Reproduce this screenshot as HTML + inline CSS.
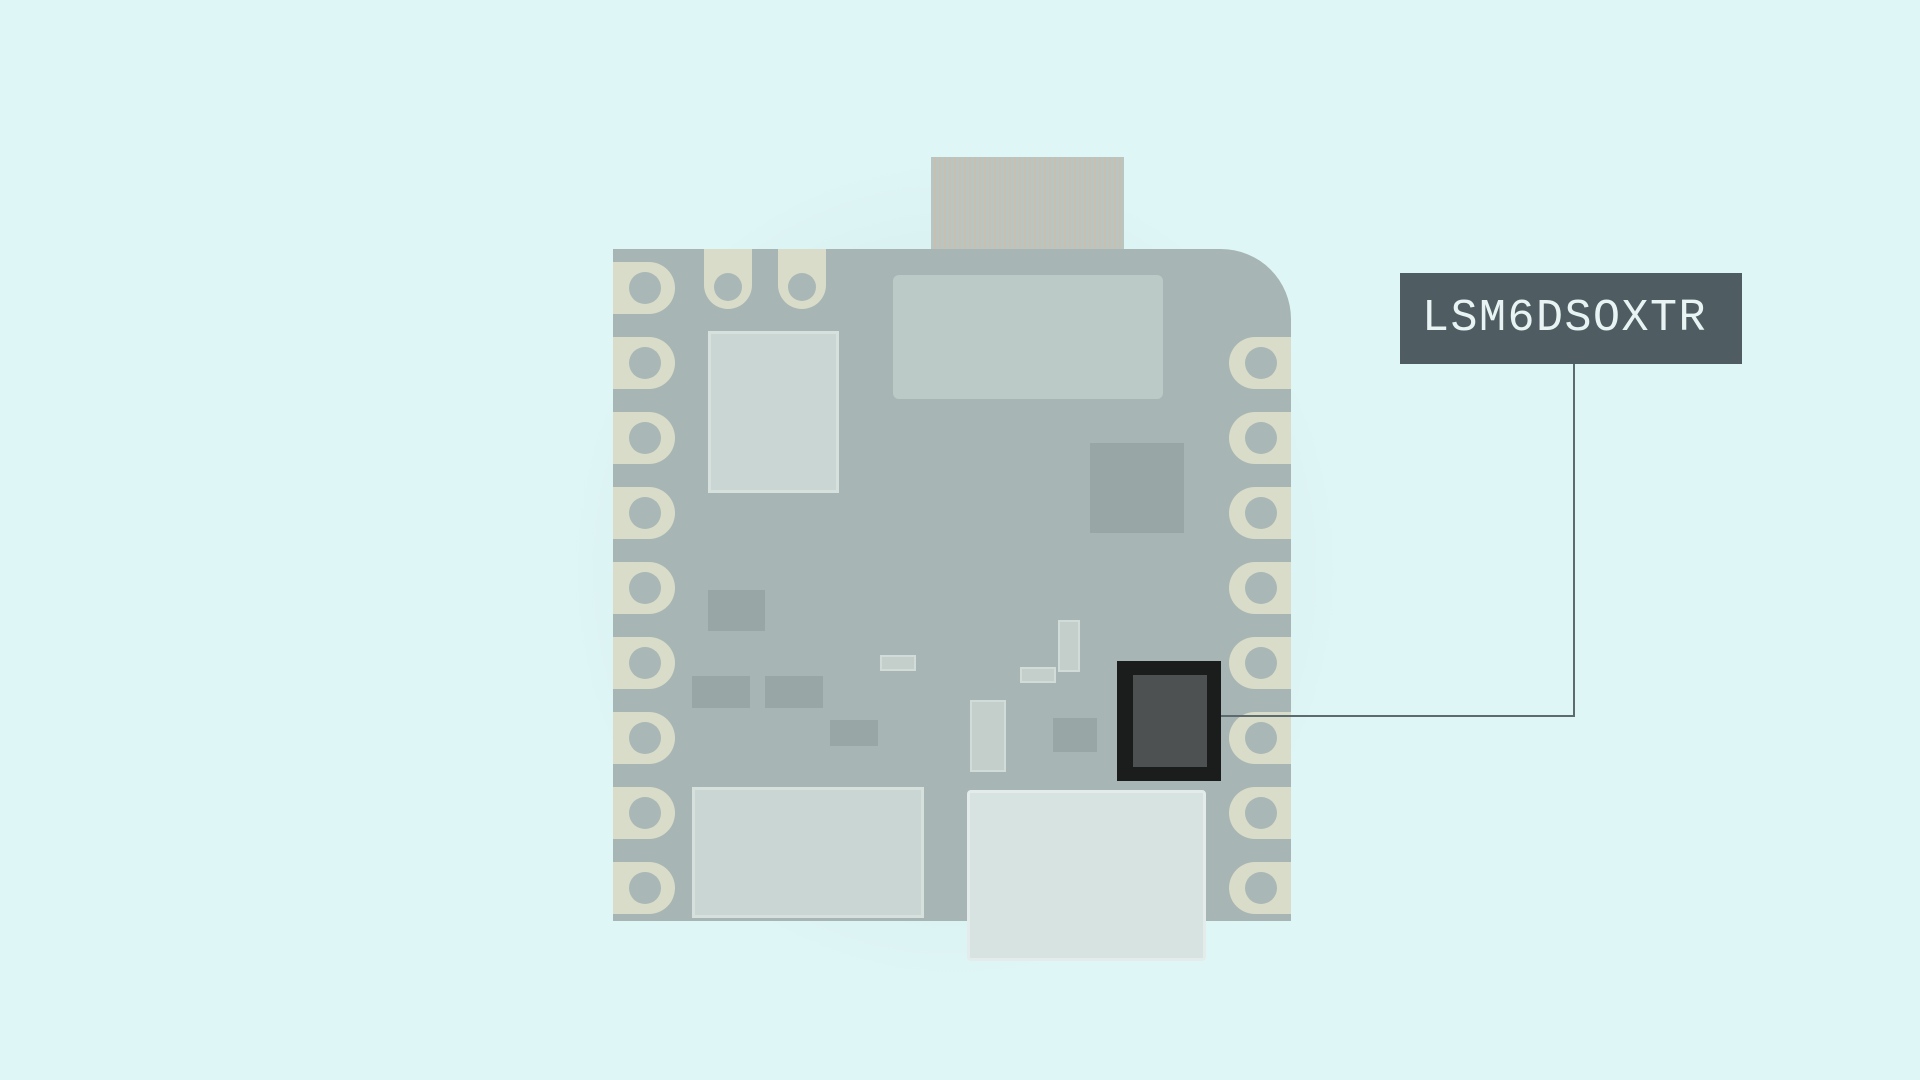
<!DOCTYPE html>
<html><head><meta charset="utf-8"><style>
body{margin:0;width:1920px;height:1080px;background:#dff6f6;position:relative;overflow:hidden;font-family:"Liberation Sans",sans-serif}
div{position:absolute;box-sizing:border-box}
.glow{left:560px;top:150px;width:790px;height:840px;background:radial-gradient(ellipse at center,rgba(180,205,205,.45),rgba(223,246,246,0) 70%)}
.board{left:613px;top:249px;width:678px;height:672px;background:#a7b6b4;border-top-right-radius:70px}
.flex{left:931px;top:157px;width:193px;height:120px;background:repeating-linear-gradient(90deg,#b9c5c0 0 3px,#c9bfb0 3px 5px)}
.blk{left:893px;top:275px;width:270px;height:124px;background:#bccac7;border-radius:6px}
.pad{width:62px;height:52px;background:#d9dcc8;border-radius:26px}
.pad::after{content:"";position:absolute;left:16px;top:10px;width:32px;height:32px;border-radius:50%;background:#a9b8b6}
.pl{left:613px;border-radius:0 26px 26px 0}
.pr{left:1229px;border-radius:26px 0 0 26px}
.pt{width:48px;height:60px;top:249px;background:#d9dcc8;border-radius:0 0 24px 24px}
.pt::after{content:"";position:absolute;left:10px;top:24px;width:28px;height:28px;border-radius:50%;background:#a9b8b6}
.wc{background:#c9d6d3;border:3px solid #d6e1de}
.dk{background:#98a7a5}
.chip{left:1117px;top:661px;width:104px;height:120px;background:#1b1d1d}
.core{left:1133px;top:675px;width:74px;height:92px;background:#4e5152}
.usb{left:967px;top:790px;width:239px;height:171px;background:#d6e3e1;border:3px solid #e3ecea;border-radius:4px}
.label{left:1400px;top:273px;width:342px;height:91px;background:#4f5d63;color:#e8f4f4;font-family:"Liberation Mono",monospace;font-size:45px;letter-spacing:1.5px;line-height:91px;padding-left:22px}
.lv{left:1573px;top:364px;width:2px;height:353px;background:#5d6b70}
.lh{left:1221px;top:715px;width:354px;height:2px;background:#5d6b70}
.sm{background:#c4cfcc;border:2px solid #d1dbd8}
</style></head><body>
<div class="glow"></div>
<div class="flex"></div>
<div class="board"></div>
<div class="blk"></div>
<div class="pad pl" style="top:262px"></div>
<div class="pad pl" style="top:337px"></div>
<div class="pad pl" style="top:412px"></div>
<div class="pad pl" style="top:487px"></div>
<div class="pad pl" style="top:562px"></div>
<div class="pad pl" style="top:637px"></div>
<div class="pad pl" style="top:712px"></div>
<div class="pad pl" style="top:787px"></div>
<div class="pad pl" style="top:862px"></div>
<div class="pad pr" style="top:337px"></div>
<div class="pad pr" style="top:412px"></div>
<div class="pad pr" style="top:487px"></div>
<div class="pad pr" style="top:562px"></div>
<div class="pad pr" style="top:637px"></div>
<div class="pad pr" style="top:712px"></div>
<div class="pad pr" style="top:787px"></div>
<div class="pad pr" style="top:862px"></div>
<div class="pt" style="left:704px"></div>
<div class="pt" style="left:778px"></div>
<div class="wc" style="left:708px;top:331px;width:131px;height:162px"></div>
<div class="wc" style="left:692px;top:787px;width:232px;height:131px"></div>
<div class="dk" style="left:708px;top:590px;width:57px;height:41px"></div>
<div class="dk" style="left:692px;top:676px;width:58px;height:32px"></div>
<div class="dk" style="left:765px;top:676px;width:58px;height:32px"></div>
<div class="dk" style="left:830px;top:720px;width:48px;height:26px"></div>
<div class="dk" style="left:1090px;top:443px;width:94px;height:90px"></div>
<div class="dk" style="left:1053px;top:718px;width:44px;height:34px"></div>
<div class="sm" style="left:970px;top:700px;width:36px;height:72px"></div>
<div class="sm" style="left:1058px;top:620px;width:22px;height:52px"></div>
<div class="sm" style="left:1020px;top:667px;width:36px;height:16px"></div>
<div class="sm" style="left:880px;top:655px;width:36px;height:16px"></div>
<div class="chip"></div>
<div class="core"></div>
<div class="usb"></div>
<div class="label">LSM6DSOXTR</div>
<div class="lv"></div>
<div class="lh"></div>
</body></html>
